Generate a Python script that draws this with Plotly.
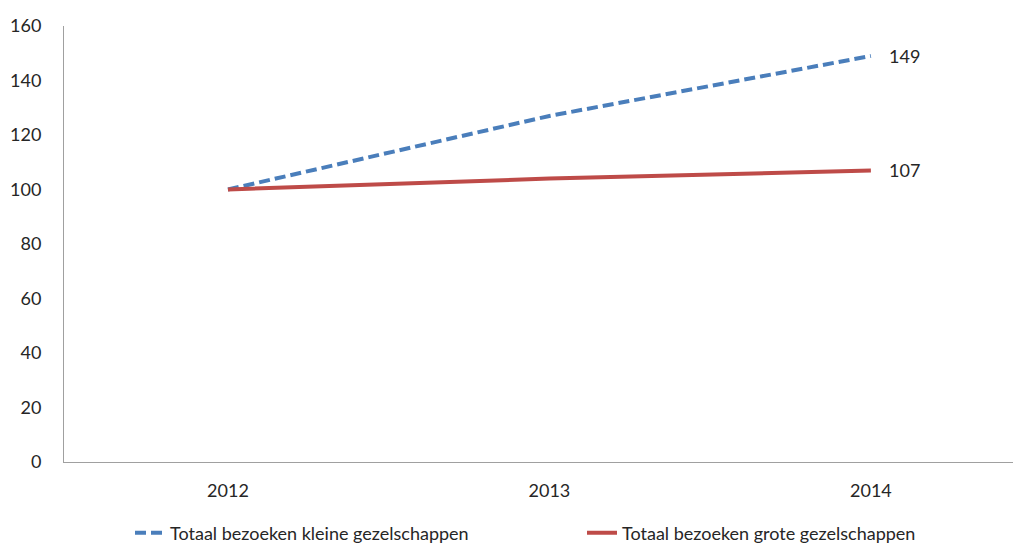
import plotly.graph_objects as go

years = ["2012", "2013", "2014"]
klein = [100, 127, 149]
groot = [100, 104, 107]
name_klein = "Totaal bezoeken kleine gezelschappen"
name_groot = "Totaal bezoeken grote gezelschappen"

font_family = "Lato, Open Sans, sans-serif"
txt_color = "#262626"

# the page body adds an 8px margin; size the figure to fill the window exactly
W, H = 1013, 536

fig = go.Figure()
fig.add_trace(go.Scatter(
    x=years, y=klein, name=name_klein, mode="lines",
    line=dict(color="#4a7ebb", width=4, dash="11px,5px"),
))
fig.add_trace(go.Scatter(
    x=years, y=groot, name=name_groot, mode="lines",
    line=dict(color="#be4b48", width=4),
))

last_idx = len(years) - 1
for series in (klein, groot):
    fig.add_annotation(
        x=last_idx, y=series[-1], text=str(series[-1]),
        showarrow=False, xanchor="left", yanchor="middle", xshift=16,
        font=dict(size=18, color=txt_color, family=font_family),
    )

fig.update_layout(
    width=W, height=H,
    margin=dict(l=56, r=0, t=18, b=82),
    plot_bgcolor="white", paper_bgcolor="white",
    font=dict(family=font_family, size=18, color=txt_color),
    xaxis=dict(
        type="category", range=[-0.51, 2.467], automargin=False,
        showline=True, linecolor="#a0a0a0", linewidth=1,
        showgrid=False, ticks="", tickfont=dict(size=18),
        zeroline=False, ticklabelstandoff=12,
    ),
    yaxis=dict(
        range=[0, 160], dtick=20, automargin=False,
        showline=True, linecolor="#a0a0a0", linewidth=1,
        showgrid=False, ticks="", tickfont=dict(size=18),
        zeroline=False, ticklabelstandoff=18,
    ),
    legend=dict(
        orientation="h", xref="container", x=122 / W, xanchor="left",
        yref="container", y=11 / H, yanchor="middle",
        font=dict(size=18), itemwidth=30, entrywidth=407,
    ),
    showlegend=True,
)

fig.write_html("out.html")
